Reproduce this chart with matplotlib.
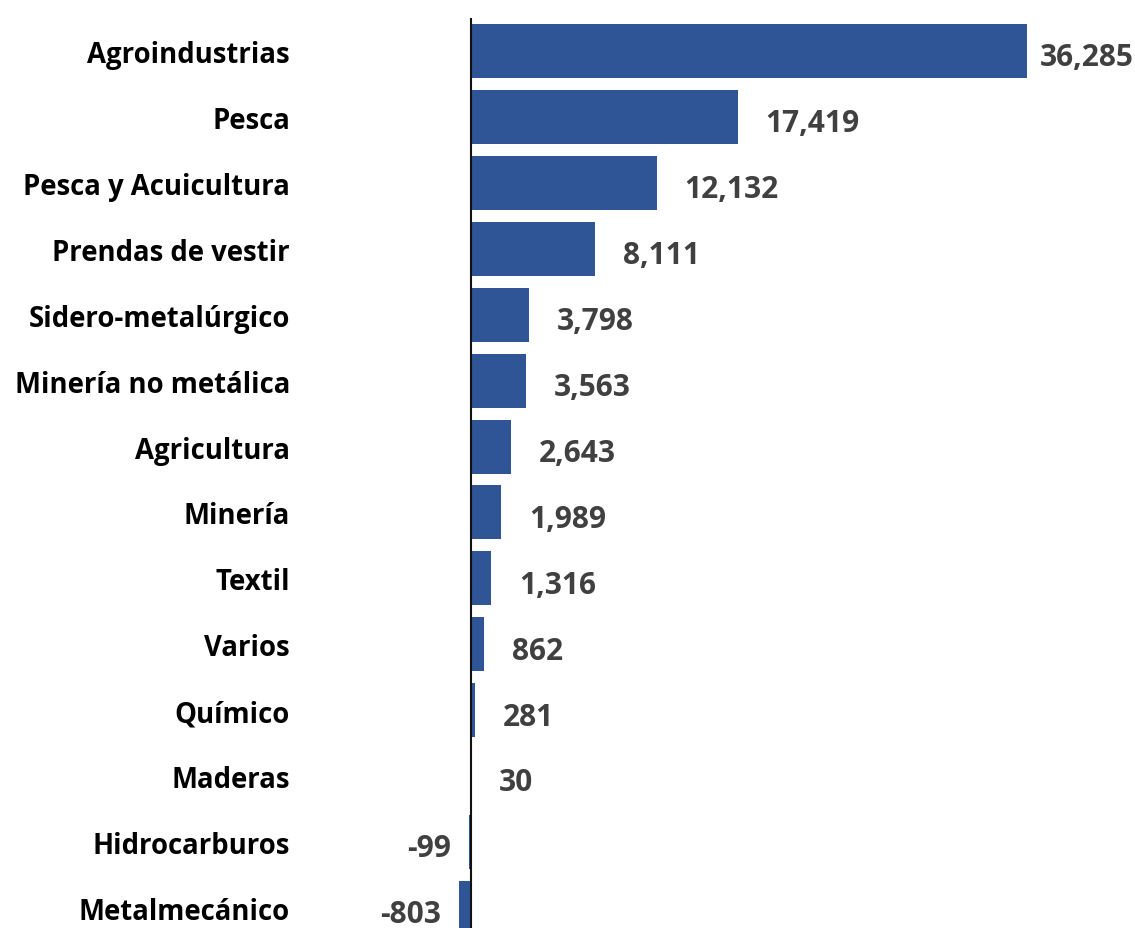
import matplotlib.pyplot as plt

sectores = ["Agroindustrias", "Pesca", "Pesca y Acuicultura", "Prendas de vestir",
            "Sidero-metalúrgico", "Minería no metálica", "Agricultura", "Minería",
            "Textil", "Varios", "Químico", "Maderas", "Hidrocarburos", "Metalmecánico"]
valores = [36285, 17419, 12132, 8111, 3798, 3563, 2643, 1989, 1316, 862, 281, 30, -99, -803]

plt.rcParams['font.family'] = ['Open Sans', 'DejaVu Sans']

fig = plt.figure(figsize=(11.35, 9.29), dpi=100)
# axes: left at 440 px, right at 1135 px, top at 18 px, bottom past the figure edge
ax = fig.add_axes([440/1135, (929-942)/929, (1135-440)/1135, (942-19)/929])

ypos = range(len(sectores))
ax.barh(ypos, valores, height=0.82, color='#2F5597')
ax.axvline(0, color='#111111', lw=1.5)

upp = 65.26  # data units per pixel
ax.set_xlim(-31*upp, 664*upp)
ax.set_ylim(len(sectores)-0.5, -0.5)

ax.set_yticks(list(ypos))
ax.set_yticklabels(sectores, fontsize=19.8, fontweight='bold', color='black')
ax.tick_params(axis='y', length=0, pad=108)
ax.set_xticks([])
for s in ax.spines.values():
    s.set_visible(False)

vmax = max(valores)
for y, v in zip(ypos, valores):
    txt = f"{v:,}"
    if v >= 0:
        dx = 9 if v == vmax else 20
        ax.annotate(txt, (v, y), xytext=(dx, -4.5), textcoords='offset points',
                    ha='left', va='center', fontsize=21.5, fontweight='bold', color='#404040')
    else:
        ax.annotate(txt, (v, y), xytext=(-13, -4.5), textcoords='offset points',
                    ha='right', va='center', fontsize=21.5, fontweight='bold', color='#404040')

fig.savefig('out.png', dpi=100)
